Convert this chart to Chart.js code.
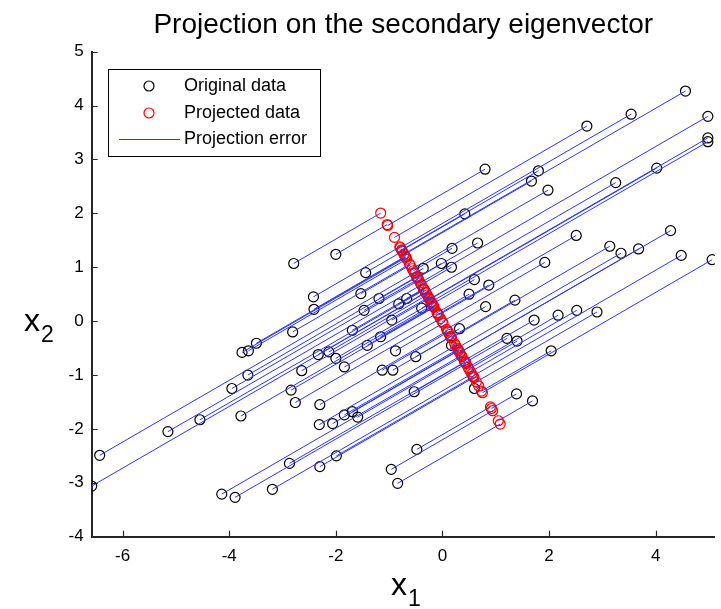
<!DOCTYPE html>
<html>
<head>
<meta charset="utf-8">
<script src="https://cdn.jsdelivr.net/npm/chart.js@4.4.1/dist/chart.umd.min.js"></script>
<style>
  html, body { margin: 0; padding: 0; background: #fff; }
  #wrap { width: 721px; height: 609px; }
</style>
</head>
<body>
<div id="wrap"><canvas id="chart" width="721" height="609"></canvas></div>
<script>
// Original data points
const originalX = [
  4.56, 3.54, 2.71, 4.98, 4.98, 4.98, 4.02, 1.80, 1.67, 1.98, 3.25, 2.51,
  4.28, 0.80, 0.42, 0.66, 3.14, 3.35, 3.68, 4.48, 5.06, 1.92, 1.36, 1.72,
  2.17, 2.52, 2.90, 1.21, 1.40, 2.04, 1.39, 1.69, -2.00, 0.18, -1.44, -0.36,
  -0.02, 0.17, 0.60, 0.87, 0.50, -1.53, -1.19, -0.67, -0.82, -1.47, -0.39, 0.81,
  -0.95, 0.32, -1.69, -1.16, -1.41, -2.33, -2.13, -2.00, -0.88, -0.50, -1.84, -1.13,
  -0.93, 0.17, 0.60, -0.53, -2.30, -2.06, -1.84, -1.69, -1.59, -2.31, -2.79, -2.42,
  -2.41, -2.81, -3.49, -3.64, -3.76, -3.65, -2.64, -3.95, -2.84, -2.76, -4.55, -3.78,
  -5.15, -6.43, -6.58, -4.14, -3.89, -3.19, -2.87, -2.30, -1.99, -0.48, -0.96, -0.84
];
const originalY = [
  4.27, 3.84, 3.62, 3.80, 3.40, 3.33, 2.84, 2.79, 2.60, 2.43, 2.57, 1.59,
  1.68, 2.82, 1.99, 1.45, 1.39, 1.26, 1.34, 1.22, 1.14, 1.09, 0.39, 0.02,
  0.11, 0.20, 0.17, -0.32, -0.37, -0.55, -1.35, -1.48, 1.24, 1.35, 0.90, 0.98,
  1.07, 1.00, 0.77, 0.67, 0.50, 0.51, 0.42, 0.42, 0.32, 0.20, 0.24, 0.27,
  0.02, -0.14, -0.17, -0.29, -0.45, -0.62, -0.57, -0.69, -0.55, -0.66, -0.85, -0.91,
  -0.91, -0.45, -1.25, -1.31, -1.55, -1.90, -1.74, -1.68, -1.78, -1.92, 1.07, 0.45,
  0.22, -0.20, -0.41, -0.55, -0.58, -1.00, -0.92, -1.25, -1.28, -1.51, -1.83, -1.76,
  -2.05, -2.49, -3.06, -3.21, -3.27, -3.12, -2.64, -2.70, -2.50, -2.38, -2.75, -3.01
];

// Secondary eigenvector and the data centre it passes through
const lineCenter = [-0.05, 0.07];
const eigenvector = [0.497, -0.868];

const xTicks = [-6, -4, -2, 0, 2, 4];
const yTicks = [-4, -3, -2, -1, 0, 1, 2, 3, 4, 5];

const FONT = "'Liberation Sans', Arial, sans-serif";
const BLUE = "#2b35ff";

const originalPoints = originalX.map((x, i) => ({ x: x, y: originalY[i] }));

// Projection of every point onto the eigenvector line
const projectedPoints = originalPoints.map((p) => {
  const t =
    (p.x - lineCenter[0]) * eigenvector[0] +
    (p.y - lineCenter[1]) * eigenvector[1];
  return {
    x: lineCenter[0] + t * eigenvector[0],
    y: lineCenter[1] + t * eigenvector[1],
  };
});

const errorLines = originalPoints.map((p, i) => ({
  label: "Projection error",
  data: [p, projectedPoints[i]],
  showLine: true,
  pointRadius: 0,
  borderColor: BLUE,
  borderWidth: 1,
  order: 0,
}));

// Inward ticks, legend box and axis labels, drawn the MATLAB way
const matlabAxes = {
  id: "matlabAxes",
  afterDraw(chart) {
    const { ctx, chartArea, scales } = chart;
    ctx.save();
    ctx.strokeStyle = "#262626";
    ctx.lineWidth = 1.2;
    ctx.beginPath();
    xTicks.forEach((v) => {
      const px = Math.round(scales.x.getPixelForValue(v)) + 0.5;
      ctx.moveTo(px, chartArea.bottom);
      ctx.lineTo(px, chartArea.bottom - 6);
    });
    yTicks.forEach((v) => {
      const py = Math.round(scales.y.getPixelForValue(v)) + 0.5;
      ctx.moveTo(chartArea.left, py);
      ctx.lineTo(chartArea.left + 6, py);
    });
    ctx.stroke();

    // legend
    ctx.fillStyle = "#fff";
    ctx.fillRect(108.5, 69.5, 212, 87);
    ctx.strokeStyle = "#000";
    ctx.lineWidth = 1;
    ctx.strokeRect(108.5, 69.5, 212, 87);

    ctx.lineWidth = 1.2;
    ctx.strokeStyle = "#000";
    ctx.beginPath();
    ctx.arc(149, 86, 5, 0, Math.PI * 2);
    ctx.stroke();
    ctx.strokeStyle = "#ff0000";
    ctx.beginPath();
    ctx.arc(149, 113, 5, 0, Math.PI * 2);
    ctx.stroke();
    ctx.strokeStyle = BLUE;
    ctx.lineWidth = 1;
    ctx.beginPath();
    ctx.moveTo(119, 139.5);
    ctx.lineTo(180, 139.5);
    ctx.stroke();

    ctx.fillStyle = "#000";
    ctx.font = "18px " + FONT;
    ctx.textBaseline = "middle";
    ctx.textAlign = "left";
    ctx.fillText("Original data", 184, 86);
    ctx.fillText("Projected data", 184, 113);
    ctx.fillText("Projection error", 184, 139);

    // axis labels with subscripts
    ctx.textBaseline = "alphabetic";
    ctx.font = "32px " + FONT;
    ctx.fillText("x", 391, 595);
    ctx.fillText("x", 24, 331);
    ctx.font = "23px " + FONT;
    ctx.fillText("1", 408, 606);
    ctx.fillText("2", 41, 342);
    ctx.restore();
  },
};

const chart = new Chart(document.getElementById("chart"), {
  type: "scatter",
  data: {
    datasets: [
      ...errorLines,
      {
        label: "Projected data",
        data: projectedPoints,
        pointRadius: 5,
        pointBorderWidth: 1.2,
        pointBorderColor: "#ff0000",
        pointBackgroundColor: "rgba(0,0,0,0)",
        order: 1,
      },
      {
        label: "Original data",
        data: originalPoints,
        pointRadius: 5,
        pointBorderWidth: 1.2,
        pointBorderColor: "#000",
        pointBackgroundColor: "rgba(0,0,0,0)",
        order: 2,
      },
    ],
  },
  options: {
    responsive: false,
    devicePixelRatio: 1,
    animation: false,
    layout: { padding: 0 },
    plugins: {
      legend: { display: false },
      tooltip: { enabled: false },
      title: {
        display: true,
        text: "Projection on the secondary eigenvector",
        fullSize: false,
        color: "#000",
        font: { family: FONT, size: 28, weight: "normal" },
        padding: { top: 8, bottom: 10.1 },
      },
    },
    scales: {
      x: {
        type: "linear",
        min: -6.58,
        max: 5.11,
        afterBuildTicks: (scale) => {
          scale.ticks = xTicks.map((v) => ({ value: v }));
        },
        afterFit: (scale) => {
          scale.height = 72.3;
        },
        grid: { display: false, drawTicks: false },
        border: { display: true, color: "#262626", width: 2 },
        ticks: {
          color: "#000",
          font: { family: FONT, size: 17 },
          padding: 9,
          maxRotation: 0,
        },
      },
      y: {
        type: "linear",
        min: -4,
        max: 5,
        afterBuildTicks: (scale) => {
          scale.ticks = yTicks.map((v) => ({ value: v }));
        },
        afterFit: (scale) => {
          scale.width = 91.7;
        },
        grid: { display: false, drawTicks: false },
        border: { display: true, color: "#262626", width: 2 },
        ticks: {
          color: "#000",
          font: { family: FONT, size: 17 },
          padding: 8,
        },
      },
    },
  },
  plugins: [matlabAxes],
});
</script>
</body>
</html>
